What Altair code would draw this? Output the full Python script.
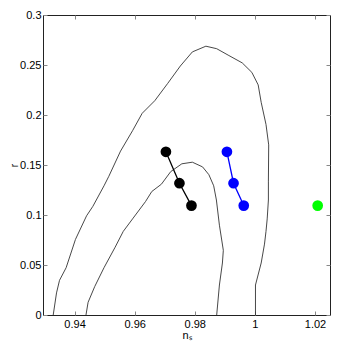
import altair as alt
import pandas as pd

outer_ns = [0.9329, 0.9340, 0.9350, 0.9372, 0.9403, 0.9440, 0.9461, 0.9498, 0.9514,
            0.9553, 0.9593, 0.9625, 0.9667, 0.9710, 0.9752, 0.9792, 0.9837, 0.9873,
            0.9911, 0.9958, 0.9990, 1.0011, 1.0021, 1.0037, 1.0046, 1.0045, 1.0045,
            1.0041, 1.0037, 1.0032, 1.0021, 1.0002, 1.0002]
outer_r = [0.0, 0.0221, 0.0347, 0.0473, 0.0756, 0.0992, 0.1087, 0.1292, 0.1387,
           0.1639, 0.1843, 0.2017, 0.2143, 0.2316, 0.2490, 0.2631, 0.2688, 0.2663,
           0.2599, 0.2521, 0.2426, 0.2301, 0.2127, 0.1906, 0.1701, 0.1339, 0.1150,
           0.0961, 0.0836, 0.0709, 0.0520, 0.0300, 0.0]
inner_ns = [0.9438, 0.9445, 0.9467, 0.9498, 0.9535, 0.9562, 0.9593, 0.9636, 0.9657,
            0.9689, 0.9720, 0.9757, 0.9792, 0.9826, 0.9847, 0.9863, 0.9872, 0.9882,
            0.9895, 0.9892, 0.9882, 0.9873]
inner_r = [0.0, 0.0127, 0.0284, 0.0473, 0.0678, 0.0836, 0.0961, 0.1134, 0.1235,
           0.1308, 0.1434, 0.1512, 0.1528, 0.1481, 0.1403, 0.1292, 0.1150, 0.0898,
           0.0647, 0.0520, 0.0300, 0.0]
black_ns = [0.9704, 0.9749, 0.9789]
black_r = [0.1632, 0.1318, 0.1094]
blue_ns = [0.9907, 0.9929, 0.9963]
blue_r = [0.1632, 0.1318, 0.1094]
green_ns = [1.0209]
green_r = [0.1094]
x_ticks = [0.94, 0.96, 0.98, 1.0, 1.02]
y_ticks = [0, 0.05, 0.1, 0.15, 0.2, 0.25, 0.3]

contours = pd.concat([
    pd.DataFrame({"ns": outer_ns, "r": outer_r, "c": "outer", "o": range(len(outer_ns))}),
    pd.DataFrame({"ns": inner_ns, "r": inner_r, "c": "inner", "o": range(len(inner_ns))}),
])
pts = pd.concat([
    pd.DataFrame({"ns": black_ns, "r": black_r, "g": "black", "o": range(3)}),
    pd.DataFrame({"ns": blue_ns, "r": blue_r, "g": "blue", "o": range(3)}),
    pd.DataFrame({"ns": green_ns, "r": green_r, "g": "green", "o": [0]}),
])

xs = alt.Scale(domain=[0.9295, 1.025], nice=False, zero=False)
ys = alt.Scale(domain=[0, 0.3], nice=False, zero=False)
cs = alt.Scale(domain=["black", "blue", "green"], range=["#000000", "#0000ff", "#00ff00"])

FONT = "Liberation Sans"
common = dict(offset=-4, tickSize=4, tickColor="#888888", tickWidth=1, domain=False,
              grid=False, labelFont=FONT, labelFontSize=11, labelColor="black",
              titleFont=FONT, titleFontWeight="normal", titleColor="black",
              minExtent=0, maxExtent=200)

x_main = alt.Axis(orient="bottom", values=x_ticks, format="~g", labelPadding=3,
                  title="nₛ", titlePadding=0, titleFontSize=11, **common)
y_main = alt.Axis(orient="left", values=y_ticks, format="~g", labelPadding=2,
                  title="r", titlePadding=0, titleFontSize=10, titleBaseline="bottom",
                  **common)
x_top = alt.Axis(orient="top", values=x_ticks, labels=False, title=None, **common)
y_right = alt.Axis(orient="right", values=y_ticks, labels=False, title=None, **common)

contour_layer = alt.Chart(contours).mark_line(color="#333333", strokeWidth=0.9).encode(
    x=alt.X("ns:Q", scale=xs, axis=x_main),
    y=alt.Y("r:Q", scale=ys, axis=y_main),
    detail="c:N",
    order="o:Q",
)
link_layer = alt.Chart(pts).mark_line(strokeWidth=1.3).encode(
    x=alt.X("ns:Q", scale=xs, axis=None),
    y=alt.Y("r:Q", scale=ys, axis=None),
    color=alt.Color("g:N", scale=cs, legend=None),
    detail="g:N",
    order="o:Q",
)
point_layer = alt.Chart(pts).mark_circle(size=115, opacity=1).encode(
    x=alt.X("ns:Q", scale=xs, axis=x_top),
    y=alt.Y("r:Q", scale=ys, axis=y_right),
    color=alt.Color("g:N", scale=cs, legend=None),
)

chart = alt.layer(contour_layer, link_layer, point_layer).resolve_axis(
    x="independent", y="independent"
).properties(
    width=287, height=300,
    autosize=alt.AutoSizeParams(type="none"),
    padding={"left": 35, "top": 7, "right": 1, "bottom": 26},
).configure_view(stroke="#222222", strokeWidth=1)

chart.save("out.html", embed_options={"renderer": "svg", "actions": False})
